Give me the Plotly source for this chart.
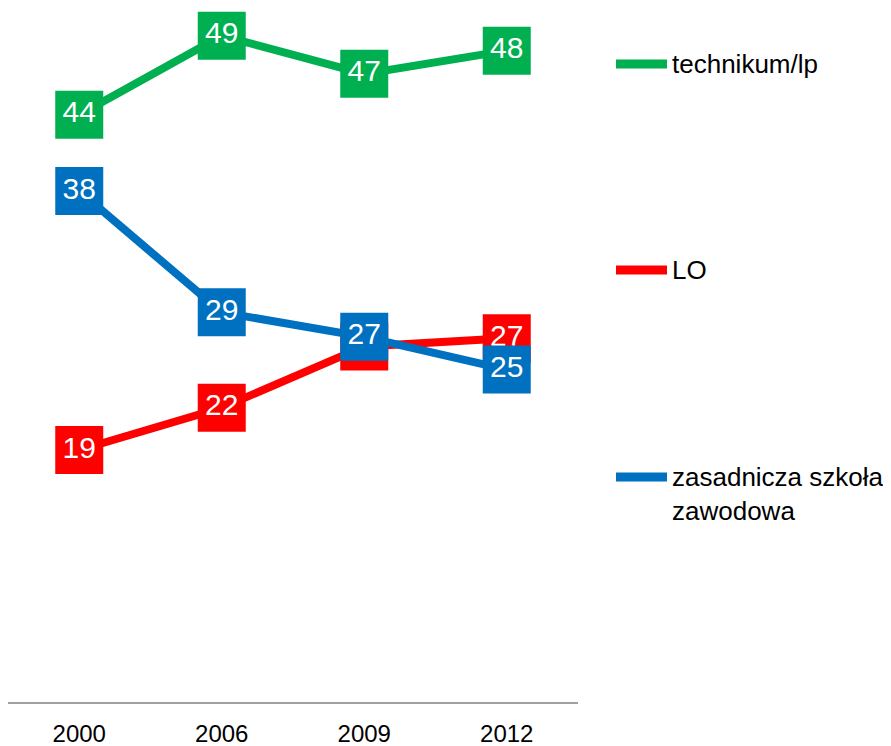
import plotly.graph_objects as go

# lata badania
years = ["2000", "2006", "2009", "2012"]

# wartości (etykiety to wartości zaokrąglone)
technikum = [43.6, 49.4, 46.6, 48.3]
lo = [19.0, 22.1, 26.6, 27.2]
zsz = [38.0, 29.1, 27.3, 24.9]

series = [
    ("technikum/lp", technikum, "#00B050"),
    ("LO", lo, "#FF0000"),
    ("zasadnicza szkoła<br>zawodowa", zsz, "#0070C0"),
]

FONT = "Liberation Sans, Arial, sans-serif"
# strona ma margines 8 px, więc rysunek jest przesunięty o 8 px
W, H = 875, 738
L, R, T, B = 0, 305, 0, 44
Y_RANGE = [0.51, 51.43]

fig = go.Figure()
for name, vals, color in series:
    fig.add_trace(go.Scatter(
        x=years, y=vals, name=name,
        mode="lines+markers+text",
        line=dict(color=color, width=8),
        marker=dict(symbol="square", size=48, color=color),
        text=[f"{v:.0f}" for v in vals],
        textposition="middle center",
        textfont=dict(family=FONT, size=30, color="white"),
        cliponaxis=False,
        showlegend=False,
    ))

# własna legenda po prawej stronie (pozycje w pikselach okna)
plot_w = W - L - R
plot_h = H - T - B
legend_y = {"technikum/lp": 64, "LO": 270, "zasadnicza szkoła<br>zawodowa": 477}
for name, vals, color in series:
    py = (702 - legend_y[name]) / plot_h
    fig.add_shape(type="line", xref="paper", yref="paper",
                  x0=(616 - 8) / plot_w, x1=(667 - 8) / plot_w, y0=py, y1=py,
                  line=dict(color=color, width=9))
    multi = "<br>" in name
    fig.add_annotation(xref="paper", yref="paper",
                       x=(670 - 8) / plot_w, y=py + (17 / plot_h if multi else 0),
                       xanchor="left", yanchor="top" if multi else "middle",
                       text=name, showarrow=False, align="left",
                       font=dict(family=FONT, size=26, color="black"))

fig.update_xaxes(type="category", range=[-0.5, 3.5], showgrid=False,
                 showline=True, linecolor="#a0a0a0", linewidth=2,
                 ticks="", ticklabelstandoff=9, automargin=False,
                 tickfont=dict(family=FONT, size=24, color="black"))
fig.update_yaxes(range=Y_RANGE, visible=False, showgrid=False, zeroline=False,
                 automargin=False)

fig.update_layout(width=W, height=H,
                  margin={"l": L, "r": R, "t": T, "b": B},
                  paper_bgcolor="white", plot_bgcolor="white",
                  font=dict(family=FONT))

fig.write_html("out.html")
